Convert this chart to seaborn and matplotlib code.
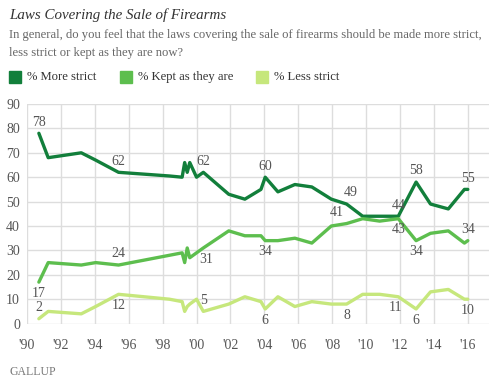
import matplotlib
matplotlib.use("Agg")
import matplotlib.pyplot as plt
import numpy as np
import pandas as pd
import seaborn as sns


# survey dates (decimal years) and the three answer series
years = [1990.7, 1991.25, 1993.2, 1994.05, 1995.4, 1998.4, 1999.15, 1999.3, 1999.45,
         1999.6, 2000.0, 2000.4, 2001.9, 2002.85, 2003.8, 2004.05, 2004.8, 2005.8,
         2006.8, 2007.95, 2008.85, 2009.8, 2010.8, 2011.9, 2012.95, 2013.8, 2014.85,
         2015.8, 2016.0]
more_strict = [78, 68, 70, 67, 62, 60.5, 60, 66, 62, 66, 60, 62, 53, 51, 55, 60, 54, 57,
               56, 51, 49, 44, 44, 44, 58, 49, 47, 55, 55]
kept_same = [17, 25, 24, 25, 24, 28, 29, 25, 31, 27, 29, 31, 38, 36, 36, 34, 34, 35,
             33, 40, 41, 43, 42, 43, 34, 37, 38, 33, 34]
less_strict = [2, 5, 4, 7, 12, 10, 9, 5, 7, 8, 10, 5, 8, 11, 9, 6, 11, 7,
               9, 8, 8, 12, 12, 11, 6, 13, 14, 10, 10]

series_names = ["% More strict", "% Kept as they are", "% Less strict"]
series_colors = ["#127f3b", "#5dbe4e", "#c6e77c"]

tick_years = list(range(1990, 2017, 2))
tick_labels = ["'90", "'92", "'94", "'96", "'98", "'00", "'02", "'04", "'06", "'08",
               "'10", "'12", "'14", "'16"]

# which points carry a value label: (series index, point index, above?, x shift in pt)
labelled = [(0, 0, True, 0), (1, 0, False, 0), (2, 0, True, 0),
            (0, 4, True, 0), (1, 4, True, 0), (2, 4, False, 0),
            (0, 11, True, 0), (1, 11, False, 2), (2, 11, True, 0),
            (0, 15, True, 0), (1, 15, False, 0), (2, 15, False, 0),
            (0, 20, True, 3), (1, 20, True, -7), (2, 20, False, 0),
            (0, 23, True, 0), (1, 23, False, 0), (2, 23, False, -2),
            (0, 24, True, 0), (1, 24, False, 0), (2, 24, False, 0),
            (0, 28, True, 0), (1, 28, True, 0), (2, 28, False, 0)]

serif = ["Liberation Serif", "DejaVu Serif"]
grey = "#666666"

df = pd.DataFrame({"year": years, series_names[0]: more_strict,
                   series_names[1]: kept_same, series_names[2]: less_strict})
long_df = df.melt(id_vars="year", var_name="answer", value_name="pct")

sns.set_theme(style="white")
plt.rcParams["font.family"] = serif

fig = plt.figure(figsize=(5.01, 3.82), dpi=100)
ax = fig.add_axes([27 / 501, 1 - 323.6 / 382, 462 / 501, 219.6 / 382])

sns.lineplot(data=long_df, x="year", y="pct", hue="answer", hue_order=series_names,
             palette=series_colors, linewidth=2.4, legend=False, ax=ax)

ax.set_xlim(1990, 2017.25)
ax.set_ylim(0, 90)
ax.set_xticks(tick_years)
ax.set_xticklabels(tick_labels)
ax.set_yticks(range(0, 91, 10))
ax.grid(True, color="#dddddd", linewidth=1)
ax.set_axisbelow(True)
for s in ax.spines.values():
    s.set_visible(False)
ax.tick_params(axis="both", length=0, labelsize=10, colors="#555555")
ax.tick_params(axis="x", pad=11)
ax.tick_params(axis="y", pad=5)
ax.set_xlabel("")
ax.set_ylabel("")

values = [more_strict, kept_same, less_strict]
for si, pi, above, dx in labelled:
    v = values[si][pi]
    ax.annotate(f"{v:.0f}", (years[pi], v), xytext=(dx, 8 if above else -8),
                textcoords="offset points", ha="center", va="center",
                fontsize=10, color="#555555")

fig.text(9 / 501, 1 - 15 / 382, "Laws Covering the Sale of Firearms", fontsize=10.8,
         style="italic", color="#333333", va="center")
fig.text(9 / 501, 1 - 35 / 382,
         "In general, do you feel that the laws covering the sale of firearms should be made more strict,",
         fontsize=9.1, color=grey, va="center")
fig.text(9 / 501, 1 - 53 / 382, "less strict or kept as they are now?",
         fontsize=9.1, color=grey, va="center")

legend_x = [9, 120, 256]
for x0, name, col in zip(legend_x, series_names, series_colors):
    fig.patches.append(plt.Rectangle((x0 / 501, 1 - 83 / 382), 12 / 501, 12 / 382,
                                     transform=fig.transFigure, color=col))
    fig.text((x0 + 18) / 501, 1 - 77 / 382, name, fontsize=9.1, color="#333333",
             va="center")

fig.text(9 / 501, 1 - 372 / 382, "GALLUP", fontsize=8.5, color="#777777", va="center")

fig.savefig("out.png", dpi=100)
